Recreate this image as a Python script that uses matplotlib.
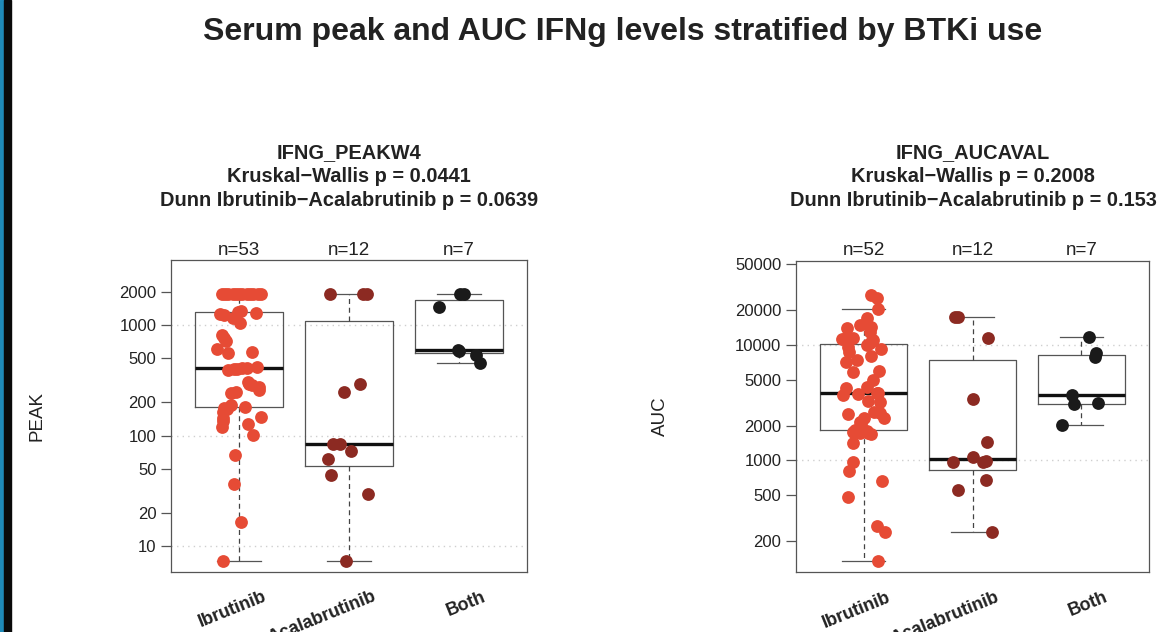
#!/usr/bin/env python3

# Serum peak and AUC IFNg levels, box plots with jittered points per BTKi group.

import math

import numpy as np
import matplotlib
matplotlib.use('Agg')
import matplotlib.pyplot as plt
from matplotlib.ticker import NullLocator
from matplotlib.transforms import blended_transform_factory
from matplotlib.patches import Rectangle

# Group names and colours.
groups = ['Ibrutinib', 'Acalabrutinib', 'Both']
group_colors = ['#E64B35', '#8C2A22', '#1A1A1A']

# IFNG_PEAKW4 values and their horizontal jitter.
peak_ibr = [1893, 1893, 1893, 1893, 1893, 1893, 1893, 1893, 1893, 1893, 1893, 1893,
            1346, 1319, 1275, 1249, 1230, 1149, 1036, 812, 760, 717, 603, 574, 555,
            395, 400, 404, 406, 410, 415,
            307, 295, 287, 277, 259, 250, 241, 189, 180, 178, 176, 165, 147, 144,
            135, 128, 121, 101, 67, 36.6, 16.7, 7.4]
peak_ibr_jit = [-0.16, -0.13, -0.10, -0.06, -0.03, 0.0, 0.03, 0.07, 0.10, 0.13, 0.17, 0.20,
                0.02, -0.01, 0.15, -0.17, -0.14, -0.06, 0.01, -0.16, -0.14, -0.12, -0.20, 0.12, -0.10,
                -0.10, -0.05, -0.02, 0.03, 0.07, 0.16,
                0.08, 0.09, 0.12, 0.18, 0.18, -0.03, -0.07, -0.07, 0.05, -0.14, -0.11, -0.15, 0.20, -0.15,
                -0.15, 0.08, -0.16, 0.13, -0.04, -0.05, 0.02, -0.15]
peak_aca = [1893, 1893, 1893, 247, 291, 84, 84, 72, 61.5, 44.2, 29.6, 7.4]
peak_aca_jit = [-0.17, 0.13, 0.16, -0.05, 0.10, -0.15, -0.08, 0.02, -0.19, -0.16, 0.17, -0.03]
peak_both = [1893, 1893, 1463, 586, 595, 536, 456]
peak_both_jit = [0.01, 0.05, -0.18, 0.0, -0.01, 0.16, 0.19]

# IFNG_AUCAVAL values and their horizontal jitter.
auc_ibr = [27100, 25400, 20500, 17250, 14900, 14400, 13950, 13040, 11570, 11270, 11430, 10400,
           11050, 9900, 9670, 9230, 8750, 8080, 7170, 7410, 5870, 5950, 4970, 4350, 4210,
           3850, 3700, 3780, 3800, 3270, 3220,
           2500, 2640, 2560, 2340, 2310, 2160, 2065,
           1680, 1710, 1740, 1770, 1800, 1840,
           1400, 973, 813, 665, 477, 271, 237, 134]
auc_ibr_jit = [0.07, 0.12, 0.13, 0.03, -0.03, 0.07, -0.15, 0.06, -0.10, -0.20, -0.16, 0.06,
               0.09, 0.03, -0.14, 0.16, -0.13, 0.07, -0.16, -0.06, -0.10, 0.14, 0.09, 0.03, -0.16,
               0.12, -0.19, -0.05, 0.13, 0.04, 0.15,
               -0.14, 0.10, 0.15, 0.19, 0.0, -0.03, -0.02,
               0.07, 0.04, -0.03, -0.10, 0.03, -0.08,
               -0.10, -0.10, -0.13, 0.17, -0.14, 0.12, 0.20, 0.13]
auc_aca = [17400, 17400, 11570, 3400, 1450, 1075, 973, 960, 990, 675, 553, 237]
auc_aca_jit = [-0.16, -0.13, 0.14, 0.0, 0.13, 0.0, -0.18, 0.10, 0.12, 0.12, -0.13, 0.18]
auc_both = [11800, 8575, 7915, 3680, 3080, 3120, 2025]
auc_both_jit = [0.07, 0.13, 0.12, -0.09, -0.07, 0.15, -0.18]

# Axis ticks and panel titles.
peak_ticks = [10, 20, 50, 100, 200, 500, 1000, 2000]
auc_ticks = [200, 500, 1000, 2000, 5000, 10000, 20000, 50000]
peak_title = ['IFNG_PEAKW4', 'Kruskal\u2212Wallis p = 0.0441',
              'Dunn Ibrutinib\u2212Acalabrutinib p = 0.0639']
auc_title = ['IFNG_AUCAVAL', 'Kruskal\u2212Wallis p = 0.2008',
             'Dunn Ibrutinib\u2212Acalabrutinib p = 0.153']

plt.rcParams['font.family'] = ['Liberation Sans', 'DejaVu Sans']

W, H = 1163, 632


# Tukey five number summary, as R's fivenum().
def fivenum(v):
    x = sorted(v)
    n = len(x)
    n4 = math.floor((n + 3) / 2) / 2
    d = [1, n4, (n + 1) / 2, n + 1 - n4, n]
    return [0.5 * (x[math.floor(i) - 1] + x[math.ceil(i) - 1]) for i in d]


# Box statistics with 1.5 IQR whiskers, as R's boxplot.stats().
def box_stats(v):
    f = fivenum(v)
    iqr = f[3] - f[1]
    lo = min(a for a in v if a >= f[1] - 1.5 * iqr)
    hi = max(a for a in v if a <= f[3] + 1.5 * iqr)
    return dict(med=f[2], q1=f[1], q3=f[3], whislo=lo, whishi=hi, fliers=[])


# Pixel position to figure fraction.
def fpos(x, y):
    return x / W, 1 - y / H


def draw_panel(ax, data, jitter, ticks, ylim, grid_vals, ylabel, ylabel_x, title, title_x):
    ax.set_yscale('log')
    ax.set_xlim(0.38, 3.62)
    ax.set_ylim(*ylim)

    # Dotted reference lines.
    for g in grid_vals:
        ax.axhline(g, color='#cfcfcf', lw=1, linestyle=(0, (1, 3)), zorder=1)

    # Boxes.
    ax.bxp([box_stats(d) for d in data], positions=[1, 2, 3], widths=0.8, capwidths=0.4,
           showfliers=False, manage_ticks=False,
           boxprops=dict(color='#555555', lw=0.9),
           whiskerprops=dict(color='#444444', lw=0.9, linestyle=(0, (4, 3))),
           capprops=dict(color='#555555', lw=0.9),
           medianprops=dict(color='#111111', lw=2.4, solid_capstyle='butt'),
           zorder=2)

    # Points.
    for i, (vals, jit) in enumerate(zip(data, jitter)):
        ax.scatter(np.array(jit) + i + 1, vals, s=85, color=group_colors[i],
                   linewidths=0, zorder=3)

    # Axes styling.
    ax.set_yticks(ticks)
    ax.set_yticklabels([str(t) for t in ticks])
    ax.yaxis.set_minor_locator(NullLocator())
    ax.set_xticks([])
    ax.tick_params(axis='y', direction='out', length=7.5, width=0.9, color='#555555',
                   labelsize=12, labelcolor='#222222', pad=3)
    for s in ax.spines.values():
        s.set_color('#555555')
        s.set_linewidth(0.9)

    # Group counts and rotated group names.
    tr = blended_transform_factory(ax.transData, ax.transAxes)
    for i, (name, vals) in enumerate(zip(groups, data)):
        ax.text(i + 1, 1.032, 'n=%d' % len(vals), transform=tr, ha='center', va='center',
                fontsize=13.5, color='#222222')
        ax.text(i + 1.21, -0.052, name, transform=tr, ha='right', va='top',
                rotation=22, rotation_mode='anchor', fontsize=13, fontweight='bold',
                color='#222222', clip_on=False)

    # Y label and three line title.
    fig.text(*fpos(ylabel_x, 416), ylabel, rotation=90, ha='center', va='center',
             fontsize=13.5, color='#222222')
    for j, line in enumerate(title):
        fig.text(*fpos(title_x, 153 + 24 * j), line, ha='center', va='center',
                 fontsize=14.4, fontweight='bold', color='#222222')


fig = plt.figure(figsize=(W / 100, H / 100), dpi=100)
fig.patch.set_facecolor('white')

# Slide edge on the left.
fig.patches.append(Rectangle((0, 0), 3.5 / W, 1, transform=fig.transFigure,
                             color='#1F8AB8', zorder=0))
fig.patches.append(Rectangle((3.5 / W, 0), 7.5 / W, 1, transform=fig.transFigure,
                             color='#0A0A0A', zorder=0))

ax1 = fig.add_axes([171 / W, 1 - 572 / H, 356 / W, 312 / H])
ax2 = fig.add_axes([796 / W, 1 - 572.3 / H, 353 / W, 311.6 / H])

draw_panel(ax1, [peak_ibr, peak_aca, peak_both],
           [peak_ibr_jit, peak_aca_jit, peak_both_jit],
           peak_ticks, (5.87, 3864), [10, 100, 1000], 'PEAK', 37, peak_title, 349)
draw_panel(ax2, [auc_ibr, auc_aca, auc_both],
           [auc_ibr_jit, auc_aca_jit, auc_both_jit],
           auc_ticks, (107, 53800), [1000, 10000], 'AUC', 660, auc_title, 973)

fig.text(*fpos(623, 32), 'Serum peak and AUC IFNg levels stratified by BTKi use',
         ha='center', va='center', fontsize=23, fontweight='bold', color='#222222')

fig.savefig('out.png', dpi=100)
